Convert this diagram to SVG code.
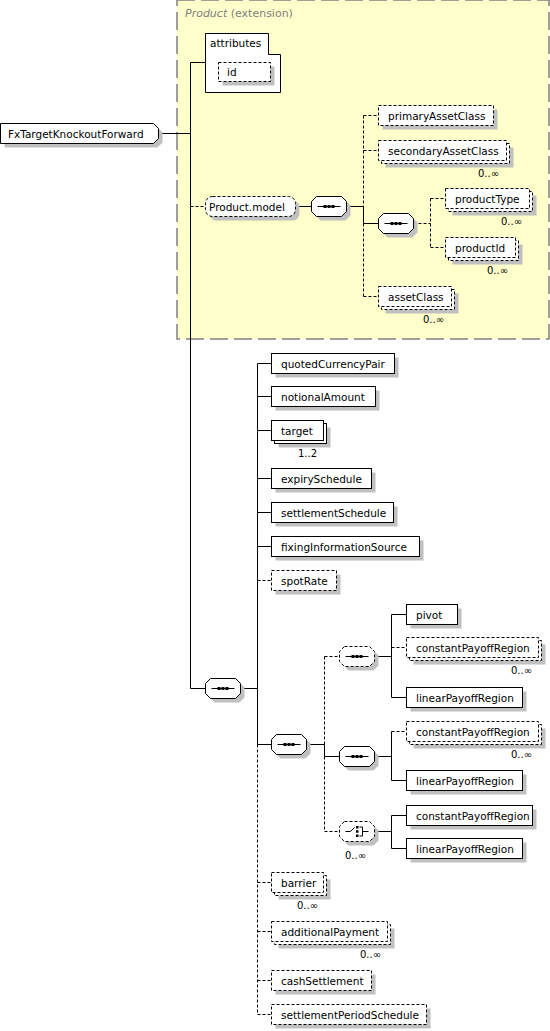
<svg xmlns="http://www.w3.org/2000/svg" width="550" height="1031" viewBox="0 0 550 1031">
<style>
.b{fill:#fff;stroke:#000;stroke-width:1}
.o{fill:#fff;stroke:#000;stroke-width:1;stroke-dasharray:3,2}
.s{fill:#c0c0c0;stroke:none}
.l{fill:none;stroke:#000;stroke-width:1}
.d{fill:none;stroke:#000;stroke-width:1;stroke-dasharray:3,2}
text{font-family:"DejaVu Sans",Verdana,sans-serif;font-size:10.5px;fill:#000}
.m{font-size:10px}
.g{fill:#808080;font-size:11px}
</style>
<defs>
<path id="oct" d="M5,0H30L35,5V15L30,20H5L0,15V5Z"/>
<g id="seq"><path d="M6,10H29" fill="none" stroke="#000"/><rect x="12" y="8.5" width="3" height="3" fill="#000"/><rect x="16" y="8.5" width="3" height="3" fill="#000"/><rect x="20" y="8.5" width="3" height="3" fill="#000"/></g>
<g id="cho"><path d="M6,10H11L15,6M20,5.5H23V14.5H20M23,10H29" fill="none" stroke="#000"/><rect x="16.5" y="4.5" width="2.5" height="2.5" fill="#000"/><rect x="16.5" y="8.75" width="2.5" height="2.5" fill="#000"/><rect x="16.5" y="13" width="2.5" height="2.5" fill="#000"/></g>
</defs>

<g id="product-extension">
<rect x="177" y="0" width="372" height="339" fill="#ffffcc" stroke="#808080" stroke-width="1.5" stroke-dasharray="18,6"/>
<text x="185" y="17" class="g"><tspan font-style="italic">Product</tspan> (extension)</text>
</g>

<g id="connectors">
<path class="l" d="M158.5,133.5H190.5M190.5,62.5V688.5M190.5,62.5H205.5M190.5,688.5H205.5M295.5,206.5H311.5M346.5,206.5H363.5V223.5H378.5M240.5,688.5H257.5M257.5,363.5V744.5M257.5,363.5H271.5M257.5,396.5H271.5M257.5,430.5H271.5M257.5,478.5H271.5M257.5,512.5H271.5M257.5,546.5H271.5M257.5,744.5H271.5M306.5,744.5H324.5V756.5H339.5M374.5,656.5H391.5M391.5,614.5V697.5M391.5,614.5H406.5M391.5,697.5H406.5M374.5,756.5H391.5M391.5,731.5V780.5M391.5,780.5H406.5M374.5,831.5H391.5M391.5,815.5V848.5M391.5,815.5H406.5M391.5,848.5H406.5"/>
<path class="d" d="M190.5,206.5H205.5M363.5,115.5V206.5M363.5,223.5V296.5M363.5,115.5H378.5M363.5,150.5H378.5M363.5,296.5H378.5M413.5,223.5H430.5M430.5,198.5V247.5M430.5,198.5H445.5M430.5,247.5H445.5M257.5,580.5H271.5M257.5,744.5V1014.5M257.5,882.5H271.5M257.5,931.5H271.5M257.5,980.5H271.5M257.5,1014.5H271.5M324.5,656.5V744.5M324.5,656.5H339.5M324.5,756.5V831.5M324.5,831.5H339.5M391.5,647.5H406.5M391.5,731.5H406.5"/>
</g>

<g id="FxTargetKnockoutForward">
<path class="s" d="M4.5,127.5H157.5L162.5,132.5V142.5L157.5,147.5H4.5Z"/>
<path class="b" d="M0.5,123.5H153.5L158.5,128.5V138.5L153.5,143.5H0.5Z"/>
<text x="8" y="137.5">FxTargetKnockoutForward</text>
</g>

<g id="attributes">
<path class="b" d="M205.5,33.5H268.5V54.5H280.5V92.5H205.5Z"/>
<text x="210" y="47">attributes</text>
</g>
<g id="id">
<rect class="s" x="222.5" y="66.5" width="52" height="19"/>
<rect class="o" x="218.5" y="62.5" width="52" height="19"/>
<text x="227" y="76">id</text>
</g>

<g id="Product.model">
<rect class="s" x="209.5" y="200.5" width="90" height="20" rx="7"/>
<rect class="o" x="205.5" y="196.5" width="90" height="20" rx="7"/>
<text x="209" y="210.5">Product.model</text>
</g>

<g id="seq-product-model" transform="translate(311.5,196.5)"><use href="#oct" class="s" x="4" y="4"/><use href="#oct" class="b"/><use href="#seq"/></g>

<g id="primaryAssetClass">
<rect class="s" x="382.5" y="109.5" width="115" height="20"/>
<rect class="o" x="378.5" y="105.5" width="115" height="20"/>
<text x="388" y="119.5">primaryAssetClass</text>
</g>
<g id="secondaryAssetClass">
<rect class="s" x="385.5" y="147.5" width="128" height="20"/>
<rect class="o" x="381.5" y="143.5" width="128" height="20"/>
<rect class="o" x="378.5" y="140.5" width="128" height="20"/>
<text x="388" y="154.5">secondaryAssetClass</text>
<text x="499" y="177" class="m" text-anchor="end">0..∞</text>
</g>

<g id="seq-product-id" transform="translate(378.5,213.5)"><use href="#oct" class="s" x="4" y="4"/><use href="#oct" class="b"/><use href="#seq"/></g>

<g id="productType">
<rect class="s" x="452.5" y="195.5" width="84" height="20"/>
<rect class="o" x="448.5" y="191.5" width="84" height="20"/>
<rect class="o" x="445.5" y="188.5" width="84" height="20"/>
<text x="455" y="202.5">productType</text>
<text x="522" y="225" class="m" text-anchor="end">0..∞</text>
</g>
<g id="productId">
<rect class="s" x="452.5" y="244.5" width="70" height="20"/>
<rect class="o" x="448.5" y="240.5" width="70" height="20"/>
<rect class="o" x="445.5" y="237.5" width="70" height="20"/>
<text x="455" y="251.5">productId</text>
<text x="508" y="274" class="m" text-anchor="end">0..∞</text>
</g>
<g id="assetClass">
<rect class="s" x="385.5" y="293.5" width="73" height="20"/>
<rect class="o" x="381.5" y="289.5" width="73" height="20"/>
<rect class="o" x="378.5" y="286.5" width="73" height="20"/>
<text x="388" y="300.5">assetClass</text>
<text x="444" y="323" class="m" text-anchor="end">0..∞</text>
</g>

<g id="seq-main" transform="translate(205.5,678.5)"><use href="#oct" class="s" x="4" y="4"/><use href="#oct" class="b"/><use href="#seq"/></g>

<g id="quotedCurrencyPair">
<rect class="s" x="275.5" y="357.5" width="123" height="20"/>
<rect class="b" x="271.5" y="353.5" width="123" height="20"/>
<text x="281" y="367.5">quotedCurrencyPair</text>
</g>
<g id="notionalAmount">
<rect class="s" x="275.5" y="390.5" width="104" height="20"/>
<rect class="b" x="271.5" y="386.5" width="104" height="20"/>
<text x="281" y="400.5">notionalAmount</text>
</g>
<g id="target">
<rect class="s" x="278.5" y="427.5" width="52" height="20"/>
<rect class="b" x="274.5" y="423.5" width="52" height="20"/>
<rect class="b" x="271.5" y="420.5" width="52" height="20"/>
<text x="281" y="434.5">target</text>
<text x="317" y="457" class="m" text-anchor="end">1..2</text>
</g>
<g id="expirySchedule">
<rect class="s" x="275.5" y="472.5" width="100" height="20"/>
<rect class="b" x="271.5" y="468.5" width="100" height="20"/>
<text x="281" y="482.5">expirySchedule</text>
</g>
<g id="settlementSchedule">
<rect class="s" x="275.5" y="506.5" width="122" height="20"/>
<rect class="b" x="271.5" y="502.5" width="122" height="20"/>
<text x="281" y="516.5">settlementSchedule</text>
</g>
<g id="fixingInformationSource">
<rect class="s" x="275.5" y="540.5" width="148" height="20"/>
<rect class="b" x="271.5" y="536.5" width="148" height="20"/>
<text x="281" y="550.5">fixingInformationSource</text>
</g>
<g id="spotRate">
<rect class="s" x="275.5" y="574.5" width="65" height="20"/>
<rect class="o" x="271.5" y="570.5" width="65" height="20"/>
<text x="281" y="584.5">spotRate</text>
</g>

<g id="seq-payoff" transform="translate(271.5,734.5)"><use href="#oct" class="s" x="4" y="4"/><use href="#oct" class="b"/><use href="#seq"/></g>
<g id="seq-pivot" transform="translate(339.5,646.5)"><use href="#oct" class="s" x="4" y="4"/><use href="#oct" class="o"/><use href="#seq"/></g>
<g id="seq-regions" transform="translate(339.5,746.5)"><use href="#oct" class="s" x="4" y="4"/><use href="#oct" class="b"/><use href="#seq"/></g>
<g id="choice-regions"><g transform="translate(339.5,821.5)"><use href="#oct" class="s" x="4" y="4"/><use href="#oct" class="o"/><use href="#cho"/></g>
<text x="366" y="859" class="m" text-anchor="end">0..∞</text></g>

<g id="pivot">
<rect class="s" x="410.5" y="608.5" width="51" height="20"/>
<rect class="b" x="406.5" y="604.5" width="51" height="20"/>
<text x="416" y="618.5">pivot</text>
</g>
<g id="constantPayoffRegion-1">
<rect class="s" x="413.5" y="644.5" width="132" height="20"/>
<rect class="o" x="409.5" y="640.5" width="132" height="20"/>
<rect class="o" x="406.5" y="637.5" width="132" height="20"/>
<text x="416" y="651.5">constantPayoffRegion</text>
<text x="532" y="674" class="m" text-anchor="end">0..∞</text>
</g>
<g id="linearPayoffRegion-1">
<rect class="s" x="410.5" y="691.5" width="116" height="20"/>
<rect class="b" x="406.5" y="687.5" width="116" height="20"/>
<text x="416" y="701.5">linearPayoffRegion</text>
</g>
<g id="constantPayoffRegion-2">
<rect class="s" x="413.5" y="728.5" width="132" height="20"/>
<rect class="o" x="409.5" y="724.5" width="132" height="20"/>
<rect class="o" x="406.5" y="721.5" width="132" height="20"/>
<text x="416" y="735.5">constantPayoffRegion</text>
<text x="532" y="758" class="m" text-anchor="end">0..∞</text>
</g>
<g id="linearPayoffRegion-2">
<rect class="s" x="410.5" y="774.5" width="116" height="20"/>
<rect class="b" x="406.5" y="770.5" width="116" height="20"/>
<text x="416" y="784.5">linearPayoffRegion</text>
</g>
<g id="constantPayoffRegion-3">
<rect class="s" x="410.5" y="809.5" width="126" height="20"/>
<rect class="b" x="406.5" y="805.5" width="126" height="20"/>
<text x="416" y="819.5">constantPayoffRegion</text>
</g>
<g id="linearPayoffRegion-3">
<rect class="s" x="410.5" y="842.5" width="116" height="20"/>
<rect class="b" x="406.5" y="838.5" width="116" height="20"/>
<text x="416" y="852.5">linearPayoffRegion</text>
</g>

<g id="barrier">
<rect class="s" x="278.5" y="879.5" width="52" height="20"/>
<rect class="o" x="274.5" y="875.5" width="52" height="20"/>
<rect class="o" x="271.5" y="872.5" width="52" height="20"/>
<text x="281" y="886.5">barrier</text>
<text x="318" y="909" class="m" text-anchor="end">0..∞</text>
</g>
<g id="additionalPayment">
<rect class="s" x="278.5" y="928.5" width="116" height="20"/>
<rect class="o" x="274.5" y="924.5" width="116" height="20"/>
<rect class="o" x="271.5" y="921.5" width="116" height="20"/>
<text x="281" y="935.5">additionalPayment</text>
<text x="381" y="958" class="m" text-anchor="end">0..∞</text>
</g>
<g id="cashSettlement">
<rect class="s" x="275.5" y="974.5" width="100" height="20"/>
<rect class="o" x="271.5" y="970.5" width="100" height="20"/>
<text x="281" y="984.5">cashSettlement</text>
</g>
<g id="settlementPeriodSchedule">
<rect class="s" x="275.5" y="1008.5" width="155" height="20"/>
<rect class="o" x="271.5" y="1004.5" width="155" height="20"/>
<text x="281" y="1018.5">settlementPeriodSchedule</text>
</g>
</svg>
